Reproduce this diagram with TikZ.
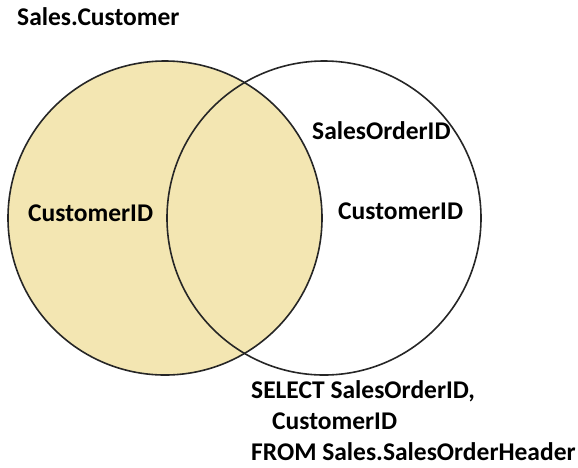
\documentclass[tikz,border=0pt]{standalone}
\usepackage{fontspec}
\setmainfont{Carlito}
\usetikzlibrary{positioning}
\definecolor{vennfill}{HTML}{F3E6B2}
\definecolor{vennline}{HTML}{262626}
\tikzset{
  setcirc/.style={circle, draw=vennline, line width=1.6pt, minimum size=314pt, inner sep=0pt},
  setfill/.style={setcirc, fill=vennfill},
  lbl/.style={font=\fontsize{25.5}{30}\selectfont\bfseries, inner sep=0pt, anchor=base west},
}
\begin{document}
\begin{tikzpicture}[x=1pt, y=-1pt]
  \useasboundingbox (0,0) rectangle (578,467);
  % the two sets
  \node[setfill] (cust) at (165,218) {};
  \node[setcirc] (hdr) at (324,218) {};
  % labels
  \node[lbl] (custname) at (17,25) {Sales.Customer};
  \node[lbl] (custid) at (28,221) {CustomerID};
  \node[lbl] (soid) at (312,139) {SalesOrderID};
  \node[lbl] (hdrid) at (338,219) {CustomerID};
  % the query
  \node[lbl] (qsel) at (251,398) {SELECT SalesOrderID,};
  \node[lbl] (qcol) at (272,429) {CustomerID};
  \node[lbl] (qfrom) at (251,460) {FROM Sales.SalesOrderHeader};
\end{tikzpicture}
\end{document}
